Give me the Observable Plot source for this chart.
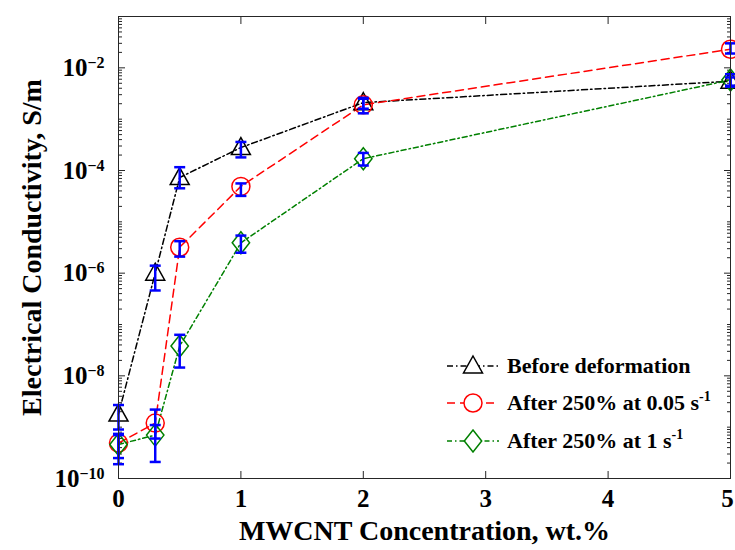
<!DOCTYPE html>
<html>
<head>
<meta charset="utf-8">
<script src="https://cdn.jsdelivr.net/npm/d3@7"></script>
<script src="https://cdn.jsdelivr.net/npm/@observablehq/plot@0.6"></script>
<style>
  body { margin: 0; background: #fff; }
  #wrap { position: relative; width: 735px; height: 550px; font-family: "Liberation Serif", serif; font-weight: bold; }
  #legend { position: absolute; left: 445px; top: 347px; }
  .row { display: flex; align-items: center; height: 37.5px; }
  .row svg { display: block; margin-right: 6px; }
  .row span { font-size: 22px; color: #000; white-space: nowrap; }
  .row sup { font-size: 14px; position: relative; top: -1px; }
</style>
</head>
<body>
<div id="wrap"><div id="legend"></div></div>
<script>
// ---- data ----
const concentration = [0, 0.3, 0.5, 1, 2, 5];
const seriesNames = ["Before deformation", "After 250% at 0.05 s-1", "After 250% at 1 s-1"];
const before   = [1.8e-9, 1.0e-6, 7.3e-5, 2.8e-4, 2.1e-3, 5.5e-3];
const beforeLo = [9.0e-10, 4.6e-7, 4.5e-5, 1.8e-4, 1.6e-3, 4.5e-3];
const beforeHi = [2.7e-9, 1.4e-6, 1.16e-4, 3.6e-4, 2.6e-3, 6.5e-3];
const slow     = [4.9e-10, 1.2e-9, 3.2e-6, 4.9e-5, 1.9e-3, 2.3e-2];
const slowLo   = [2.5e-10, 6.0e-10, 2.1e-6, 3.2e-5, 1.3e-3, 1.9e-2];
const slowHi   = [7.4e-10, 2.2e-9, 4.2e-6, 5.6e-5, 2.5e-3, 3.0e-2];
const fast     = [4.6e-10, 7.0e-10, 3.8e-8, 3.9e-6, 1.7e-4, 5.8e-3];
const fastLo   = [1.9e-10, 2.1e-10, 1.45e-8, 2.5e-6, 1.25e-4, 4.3e-3];
const fastHi   = [7.0e-10, 1.1e-9, 6.3e-8, 5.4e-6, 2.2e-4, 7.5e-3];
const xTicks = [0, 1, 2, 3, 4, 5];
const yMajorTicks = [1e-10, 1e-8, 1e-6, 1e-4, 1e-2];
const xLabel = "MWCNT Concentration, wt.%";
const yLabel = "Electrical Conductivity, S/m";

// ---- styles ----
const colors = ["#000000", "#ff0000", "#008000"];
const dashes = ["6,3,1.5,3", "8,5", "5,3,1.5,3"];
const errColor = "#0000ff";

const triangle = { draw(c) { c.moveTo(0, -10); c.lineTo(9.5, 7); c.lineTo(-9.5, 7); c.closePath(); } };
const circle = { draw(c) { c.moveTo(9, 0); c.arc(0, 0, 9, 0, 2 * Math.PI); c.closePath(); } };
const diamond = { draw(c) { c.moveTo(0, -11); c.lineTo(8.7, 0); c.lineTo(0, 11); c.lineTo(-8.7, 0); c.closePath(); } };
const cap = { draw(c) { c.moveTo(-5.5, 0); c.lineTo(5.5, 0); } };
const symbols = [triangle, circle, diamond];

const sets = [[before, beforeLo, beforeHi], [slow, slowLo, slowHi], [fast, fastLo, fastHi]];
const series = sets.map(([v, lo, hi], s) => concentration.map((x, i) => ({ s, x, y: v[i], lo: lo[i], hi: hi[i] })));

const minorTicks = d3.scaleLog().domain([1e-10, 1e-1]).ticks().filter(t => !yMajorTicks.some(m => Math.abs(Math.log10(t) - Math.log10(m)) < 1e-6));

const marks = [];
series.forEach((rows, s) => {
  marks.push(Plot.line(rows, { x: "x", y: "y", stroke: colors[s], strokeWidth: 1.5, strokeDasharray: dashes[s] }));
});
series.forEach((rows, s) => {
  marks.push(Plot.dot(rows, { x: "x", y: "y", symbol: () => symbols[s], stroke: colors[s], fill: "none", strokeWidth: 1.5, r: 8 }));
});
series.forEach((rows) => {
  marks.push(Plot.ruleX(rows, { x: "x", y1: "lo", y2: "hi", stroke: errColor, strokeWidth: 2.5 }));
  marks.push(Plot.dot(rows, { x: "x", y: "lo", symbol: () => cap, stroke: errColor, strokeWidth: 2.5, fill: "none" }));
  marks.push(Plot.dot(rows, { x: "x", y: "hi", symbol: () => cap, stroke: errColor, strokeWidth: 2.5, fill: "none" }));
});

const axisStroke = "#262626";
const plot = Plot.plot({
  width: 735, height: 550,
  marginLeft: 118, marginRight: 5, marginTop: 16, marginBottom: 72,
  style: { fontFamily: "Liberation Serif, serif", fontWeight: "bold", color: "#000", background: "#fff", overflow: "visible" },
  x: { domain: [0, 5] },
  y: { type: "log", domain: [1e-10, 1e-1] },
  symbol: { type: "identity" },
  marks: [
    Plot.axisY({ anchor: "left", ticks: minorTicks, tickSize: -4, tickFormat: () => "", label: null, stroke: axisStroke }),
    Plot.axisY({ anchor: "right", ticks: minorTicks, tickSize: -4, tickFormat: () => "", label: null, stroke: axisStroke }),
    Plot.axisY({ anchor: "right", ticks: yMajorTicks, tickSize: -7, tickFormat: () => "", label: null, stroke: axisStroke }),
    Plot.axisY({ anchor: "left", ticks: yMajorTicks, tickSize: -7, tickPadding: 7 + 14, fontSize: 25, tickFormat: d => "10^" + Math.round(Math.log10(d)), label: null, stroke: axisStroke }),
    Plot.axisX({ anchor: "bottom", ticks: xTicks, tickSize: -7, tickPadding: 7 + 11, fontSize: 25, tickFormat: d => String(d), label: null, stroke: axisStroke }),
    Plot.axisX({ anchor: "top", ticks: xTicks, tickSize: -7, tickFormat: () => "", label: null, stroke: axisStroke }),
    ...marks,
    Plot.frame({ stroke: axisStroke, strokeWidth: 1 }),
    Plot.text([xLabel], { text: d => d, frameAnchor: "bottom", textAnchor: "middle", dy: 61, fontSize: 28, fontWeight: "bold", fill: "#000" }),
    Plot.text([yLabel], { text: d => d, frameAnchor: "left", textAnchor: "middle", rotate: -90, dx: -86, fontSize: 28, fontWeight: "bold", fill: "#000" })
  ]
});

// superscript exponents on y tick labels
const ns = "http://www.w3.org/2000/svg";
plot.querySelectorAll('g[aria-label="y-axis tick label"] text').forEach(t => {
  const s = t.textContent;
  if (s.startsWith("10^")) {
    t.textContent = "10";
    const ts = document.createElementNS(ns, "tspan");
    ts.setAttribute("dy", "-0.5em");
    ts.setAttribute("font-size", "16");
    ts.textContent = s.slice(3).replace("-", "\u2212");
    t.appendChild(ts);
  }
});
// keep the last x tick label inside the picture
const xLabels = plot.querySelectorAll('g[aria-label="x-axis tick label"] text');
xLabels.forEach(t => { if (t.textContent === "5") t.setAttribute("dx", "-3"); });
document.getElementById("wrap").prepend(plot);

// legend
const legend = document.getElementById("legend");
const markerPaths = [
  "M28,2 L37.5,19 L18.5,19 Z",
  "M37,12 A9,9 0 1 1 19,12 A9,9 0 1 1 37,12 Z",
  "M28,1 L36.7,12 L28,23 L19.3,12 Z"
];
seriesNames.forEach((name, s) => {
  const row = document.createElement("div");
  row.className = "row";
  const m = name.match(/^(.*) s-1$/);
  const label = m ? `${m[1]} s<sup>-1</sup>` : name;
  row.innerHTML = `<svg width="56" height="24" viewBox="0 0 56 24">
      <line x1="2" y1="12" x2="54" y2="12" stroke="${colors[s]}" stroke-width="1.5" stroke-dasharray="${dashes[s]}"/>
      <path d="${markerPaths[s]}" fill="#fff" stroke="${colors[s]}" stroke-width="1.5"/>
    </svg><span>${label}</span>`;
  legend.appendChild(row);
});
</script>
</body>
</html>
